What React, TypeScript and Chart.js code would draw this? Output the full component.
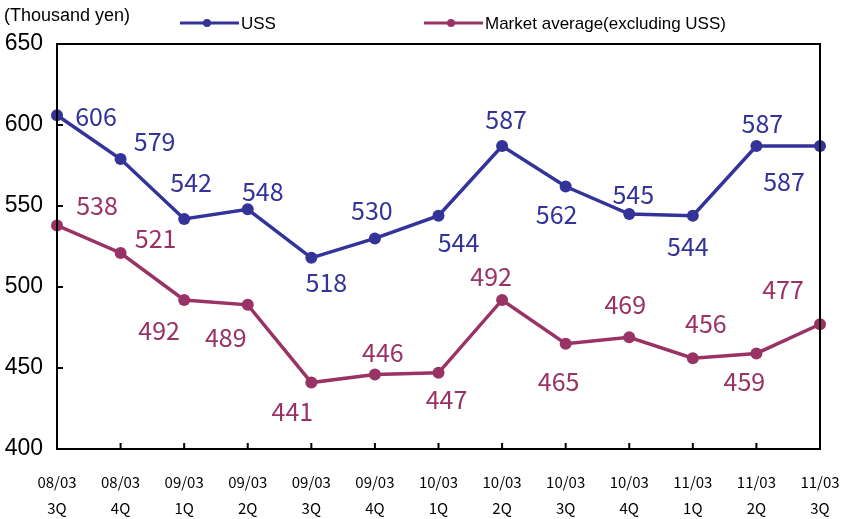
import React, { useEffect, useRef } from "react";
import { Chart, registerables } from "chart.js";
Chart.register(...registerables);

const categories: string[][] = [
  ["08/03", "3Q"], ["08/03", "4Q"], ["09/03", "1Q"], ["09/03", "2Q"], ["09/03", "3Q"],
  ["09/03", "4Q"], ["10/03", "1Q"], ["10/03", "2Q"], ["10/03", "3Q"], ["10/03", "4Q"],
  ["11/03", "1Q"], ["11/03", "2Q"], ["11/03", "3Q"],
];
const ussValues = [606, 579, 542, 548, 518, 530, 544, 587, 562, 545, 544, 587, 587];
const marketValues = [538, 521, 492, 489, 441, 446, 447, 492, 465, 469, 456, 459, 477];
const yMin = 400;
const yMax = 650;
const yStep = 50;
const seriesNames = ["USS", "Market average(excluding USS)"];
const unitLabel = "(Thousand yen)";

// styling: label offsets from each point (px)
const ussLabelOffsets = [[39, 1], [34, -18], [7, -36], [15, -18], [15, 25], [-3, -28], [20, 27], [4, -27], [-9, 28], [4, -20], [-5, 31], [6, -23], [-36, 35]];
const marketLabelOffsets = [[40, -20], [35, -14], [-25, 31], [-22, 33], [-19, 29], [8, -22], [8, 27], [-11, -23], [-7, 38], [-4, -33], [13, -35], [-12, 28], [-37, -35]];

const USS_COLOR = "#333399";
const MKT_COLOR = "#993366";
const LABEL_FONT = '25px "Noto Sans CJK JP", sans-serif';
const TEXT_FONT = '17px "Liberation Sans", Arial, sans-serif';

const decorPlugin = {
  id: "decor",
  afterDraw(chart: any) {
    const ctx = chart.ctx;
    const { left, right, top, bottom } = chart.chartArea;
    ctx.save();
    // frame
    ctx.strokeStyle = "#000";
    ctx.lineWidth = 2;
    ctx.beginPath();
    ctx.moveTo(left, top);
    ctx.lineTo(right, top);
    ctx.lineTo(right, bottom);
    ctx.lineTo(left, bottom);
    ctx.closePath();
    ctx.stroke();
    // ticks
    const ys = chart.scales.y;
    for (let v = yMin; v <= yMax; v += yStep) {
      const py = ys.getPixelForValue(v);
      ctx.beginPath();
      ctx.moveTo(left, py);
      ctx.lineTo(left + 6, py);
      ctx.stroke();
    }
    const xs = chart.scales.x;
    for (let i = 1; i < categories.length - 1; i++) {
      const px = xs.getPixelForValue(i);
      ctx.beginPath();
      ctx.moveTo(px, bottom);
      ctx.lineTo(px, bottom - 6);
      ctx.stroke();
    }
    // unit label
    ctx.fillStyle = "#000";
    ctx.font = '18px "Liberation Sans", Arial, sans-serif';
    ctx.textAlign = "left";
    ctx.textBaseline = "middle";
    ctx.fillText(unitLabel, 4, 16);
    // legend
    const legendItems = [
      { x: 180, color: USS_COLOR, text: seriesNames[0] },
      { x: 424, color: MKT_COLOR, text: seriesNames[1] },
    ];
    legendItems.forEach((it) => {
      ctx.strokeStyle = it.color;
      ctx.lineWidth = 3;
      ctx.beginPath();
      ctx.moveTo(it.x, 23);
      ctx.lineTo(it.x + 59, 23);
      ctx.stroke();
      ctx.fillStyle = it.color;
      ctx.beginPath();
      ctx.arc(it.x + 27, 23, 4, 0, Math.PI * 2);
      ctx.fill();
      ctx.fillStyle = "#000";
      ctx.font = TEXT_FONT;
      ctx.fillText(it.text, it.x + 61, 24);
    });
    // data labels
    const offsetsList = [ussLabelOffsets, marketLabelOffsets];
    const colors = [USS_COLOR, MKT_COLOR];
    chart.data.datasets.forEach((ds: any, di: number) => {
      const meta = chart.getDatasetMeta(di);
      ctx.fillStyle = colors[di];
      ctx.font = LABEL_FONT;
      ctx.textAlign = "center";
      ctx.textBaseline = "middle";
      meta.data.forEach((pt: any, i: number) => {
        const [dx, dy] = offsetsList[di][i];
        ctx.fillText(String(ds.data[i]), pt.x + dx, pt.y + dy);
      });
    });
    ctx.restore();
  },
};

export default function App() {
  const ref = useRef<HTMLCanvasElement>(null);
  useEffect(() => {
    document.body.style.margin = "0";
    const chart = new Chart(ref.current!, {
      type: "line",
      data: {
        labels: categories,
        datasets: [
          {
            label: seriesNames[0],
            data: ussValues,
            borderColor: USS_COLOR,
            backgroundColor: USS_COLOR,
            borderWidth: 3.5,
            pointRadius: 6,
            pointBackgroundColor: USS_COLOR,
            pointBorderWidth: 0,
            tension: 0,
          },
          {
            label: seriesNames[1],
            data: marketValues,
            borderColor: MKT_COLOR,
            backgroundColor: MKT_COLOR,
            borderWidth: 3.5,
            pointRadius: 6,
            pointBackgroundColor: MKT_COLOR,
            pointBorderWidth: 0,
            tension: 0,
          },
        ],
      },
      options: {
        animation: false,
        responsive: true,
        maintainAspectRatio: false,
        layout: { padding: { top: 44, right: 26, left: 0, bottom: 0 } },
        plugins: { legend: { display: false }, tooltip: { enabled: false } },
        scales: {
          x: {
            type: "category",
            offset: false,
            grid: { display: false, drawTicks: false },
            border: { display: false },
            ticks: {
              color: "#000",
              font: { family: '"Noto Sans CJK JP", sans-serif', size: 15, lineHeight: 1.73 },
              padding: 20,
              maxRotation: 0,
              autoSkip: false,
            },
            afterFit: (s: any) => {
              s.height = 70;
              s.paddingLeft = 0;
              s.paddingRight = 0;
            },
          },
          y: {
            min: yMin,
            max: yMax,
            grid: { display: false, drawTicks: false },
            border: { display: false },
            ticks: {
              stepSize: yStep,
              color: "#000",
              font: { family: '"Liberation Sans", Arial, sans-serif', size: 23 },
              padding: 14,
            },
            afterFit: (s: any) => {
              s.width = 57;
              s.paddingTop = 0;
              s.paddingBottom = 0;
            },
          },
        },
      },
      plugins: [decorPlugin],
    });
    return () => chart.destroy();
  }, []);
  return (
    <div style={{ width: 846, height: 519, position: "relative" }}>
      <canvas ref={ref} />
    </div>
  );
}
